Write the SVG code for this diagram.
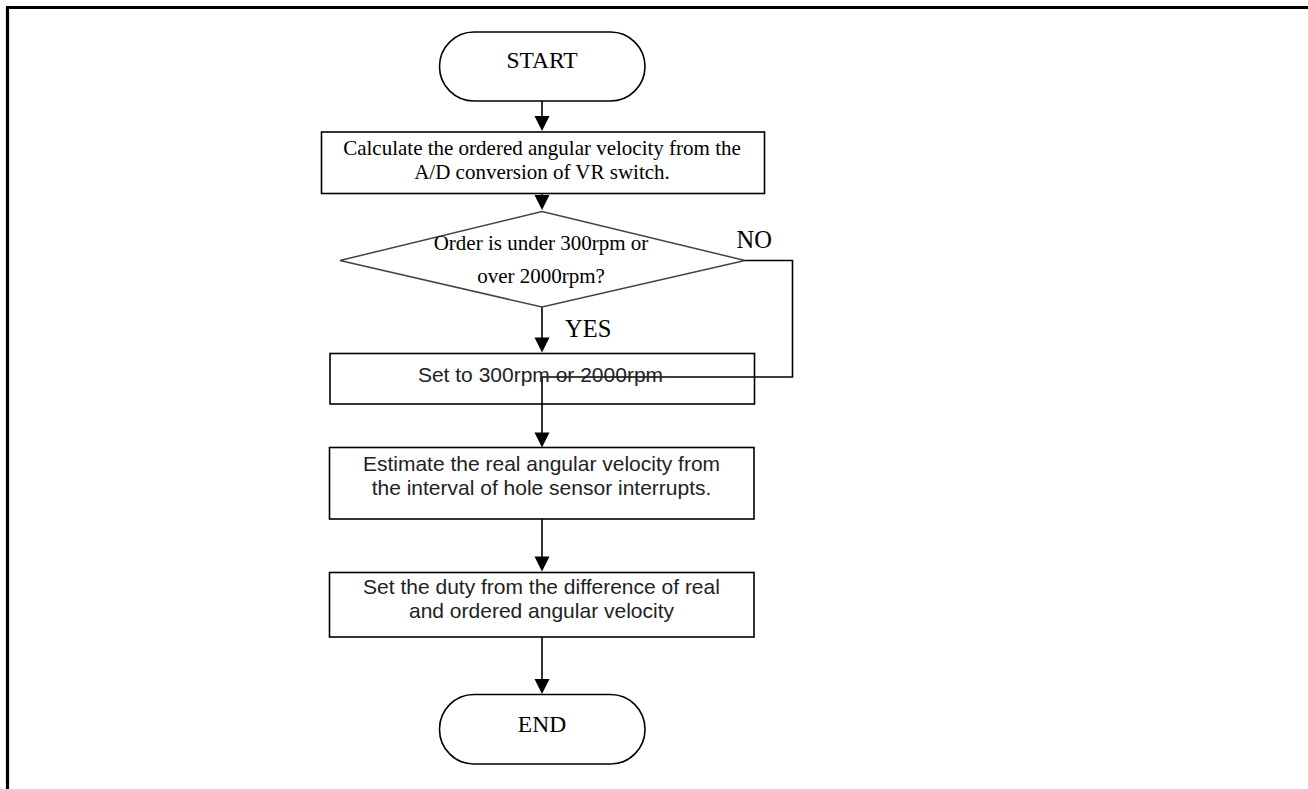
<svg xmlns="http://www.w3.org/2000/svg" width="1308" height="789" viewBox="0 0 1308 789">
<style>
.frame{fill:none;stroke:#000;stroke-width:3.2}
.shape{fill:#fff;stroke:#000;stroke-width:1.6}
.dia{fill:#fff;stroke:#444;stroke-width:1.5}
.line{fill:none;stroke:#000;stroke-width:1.6}
.head{fill:#000}
.serif{font-family:"Liberation Serif","Times New Roman",serif;fill:#000}
.sans{font-family:"Liberation Sans",Arial,sans-serif;fill:#222}
.mid{text-anchor:middle}
</style>
<defs>
<path id="ah" d="M-7.5,-15 L7.5,-15 L0,0 Z"/>
</defs>
<rect width="1308" height="789" fill="#fff"/>
<path class="frame" d="M7.5,789 V7.5 H1308"/>

<g id="connectors">
<line class="line" x1="542" y1="101" x2="542" y2="124"/>
<use href="#ah" class="head" x="542" y="131"/>
<line class="line" x1="542" y1="194" x2="542" y2="204"/>
<use href="#ah" class="head" x="542" y="210"/>
<line class="line" x1="542" y1="307" x2="542" y2="345"/>
<use href="#ah" class="head" x="542" y="352.5"/>
<polyline class="line" points="745,260.5 792.5,260.5 792.5,377 542,377 542,440"/>
<use href="#ah" class="head" x="542" y="447.5"/>
<line class="line" x1="542" y1="519" x2="542" y2="564"/>
<use href="#ah" class="head" x="542" y="571.5"/>
<line class="line" x1="542" y1="637" x2="542" y2="687"/>
<use href="#ah" class="head" x="542" y="694"/>
<text class="serif" x="736.5" y="248" font-size="24.5">NO</text>
<text class="serif" x="565" y="336.5" font-size="24.5">YES</text>
</g>

<g id="start">
<rect class="shape" x="439.5" y="32" width="205.5" height="69" rx="34.5" ry="34.5"/>
<text class="serif mid" x="542" y="68" font-size="23.5">START</text>
</g>

<g id="calc">
<rect class="shape" x="321.5" y="132" width="443" height="61.5"/>
<text class="serif mid" x="542" y="154.5" font-size="21">Calculate the ordered angular velocity from the</text>
<text class="serif mid" x="542" y="178.5" font-size="21">A/D conversion of VR switch.</text>
</g>

<g id="decision">
<polygon class="dia" points="542,211.5 745,260.5 542,307 340,260.5"/>
<text class="serif mid" x="541" y="250" font-size="21">Order is under 300rpm or</text>
<text class="serif mid" x="541" y="283" font-size="21">over 2000rpm?</text>
</g>

<g id="clamp">
<rect x="330" y="353.5" width="424.5" height="50.5" style="fill:none;stroke:#000;stroke-width:1.6"/>
<text class="sans mid" x="540.5" y="381.5" font-size="21">Set to 300rpm or 2000rpm</text>
</g>

<g id="estimate">
<rect class="shape" x="329.5" y="447.5" width="424.5" height="71.5"/>
<text class="sans mid" x="541.5" y="471" font-size="21">Estimate the real angular velocity from</text>
<text class="sans mid" x="541.5" y="495" font-size="21">the interval of hole sensor interrupts.</text>
</g>

<g id="duty">
<rect class="shape" x="329.5" y="572.5" width="424.5" height="64.5"/>
<text class="sans mid" x="541.5" y="593.5" font-size="21">Set the duty from the difference of real</text>
<text class="sans mid" x="541.5" y="617.5" font-size="21">and ordered angular velocity</text>
</g>

<g id="end">
<rect class="shape" x="439.5" y="694.5" width="205.5" height="69.5" rx="34.5" ry="34.5"/>
<text class="serif mid" x="542" y="731.5" font-size="23.5">END</text>
</g>
</svg>
